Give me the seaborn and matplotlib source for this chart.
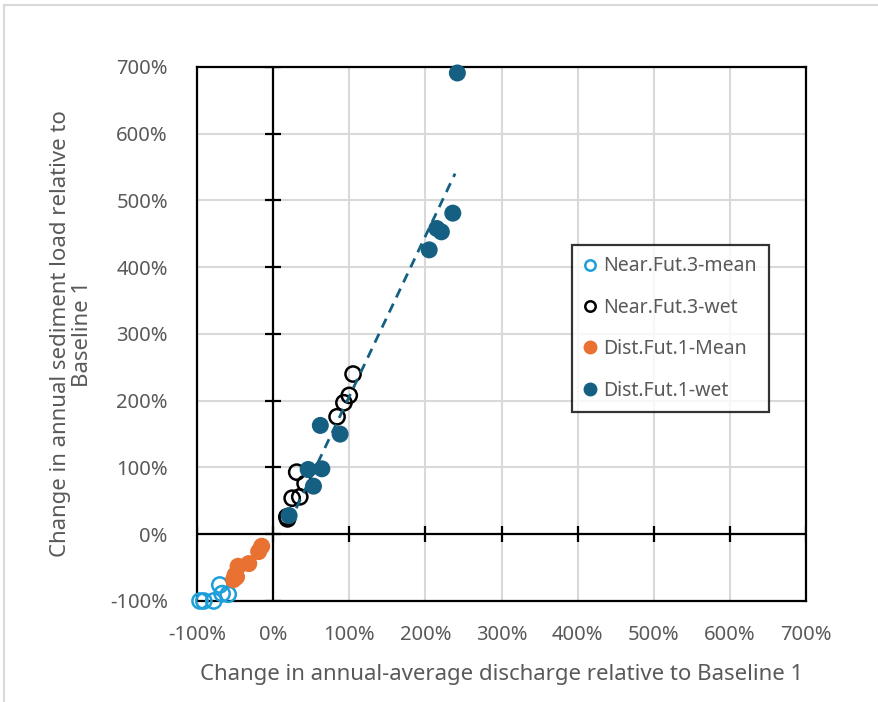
import numpy as np
import pandas as pd
import matplotlib.pyplot as plt
import matplotlib.patches as mpatches
import seaborn as sns

# values in percent
near_mean_x = [-96, -91, -78, -67, -59, -70]
near_mean_y = [-100, -100, -100, -89, -90, -76]

near_wet_x = [105, 100, 93, 84, 31, 42, 35, 25, 18, 19]
near_wet_y = [240, 208, 197, 176, 93, 76, 56, 54, 26, 23]

dist_mean_x = [-15, -19, -32, -46, -50, -52, -48]
dist_mean_y = [-18, -26, -44, -48, -61, -68, -64]

dist_wet_x = [62, 88, 46, 64, 53, 21, 242, 236, 221, 215, 205]
dist_wet_y = [163, 150, 97, 98, 72, 28, 691, 481, 453, 458, 426]

ticks = [-100, 0, 100, 200, 300, 400, 500, 600, 700]
tick_labels = [f"{t}%" for t in ticks]

series = ["Near.Fut.3-mean", "Near.Fut.3-wet", "Dist.Fut.1-Mean", "Dist.Fut.1-wet"]
colors = {"Near.Fut.3-mean": "#1E9FDA", "Near.Fut.3-wet": "#000000",
          "Dist.Fut.1-Mean": "#E97132", "Dist.Fut.1-wet": "#156082"}
hollow = {"Near.Fut.3-mean": True, "Near.Fut.3-wet": True,
          "Dist.Fut.1-Mean": False, "Dist.Fut.1-wet": False}

df = pd.concat([
    pd.DataFrame({"x": near_mean_x, "y": near_mean_y, "series": series[0]}),
    pd.DataFrame({"x": near_wet_x, "y": near_wet_y, "series": series[1]}),
    pd.DataFrame({"x": dist_mean_x, "y": dist_mean_y, "series": series[2]}),
    pd.DataFrame({"x": dist_wet_x, "y": dist_wet_y, "series": series[3]}),
], ignore_index=True)

sns.set_style("white")
plt.rcParams["font.family"] = ["Noto Sans", "DejaVu Sans"]
grey_text = "#595959"

fig = plt.figure(figsize=(8.79, 7.02), dpi=100)
ax = fig.add_axes([0.2241, 0.1439, 0.6929, 0.7607])

# grid
for t in ticks:
    ax.axvline(t, color="#d9d9d9", lw=1.5, zorder=0)
    ax.axhline(t, color="#d9d9d9", lw=1.5, zorder=0)
ax.axvline(0, color="black", lw=1.6, zorder=1)
ax.axhline(0, color="black", lw=1.6, zorder=1)
# cross tick marks on the zero lines
ax.plot([0] * len(ticks), ticks, ls="none", marker="_", ms=11, mew=1.6, color="black", zorder=1)
ax.plot(ticks, [0] * len(ticks), ls="none", marker="|", ms=11, mew=1.6, color="black", zorder=1)

handles = []
for name in series:
    sub = df[df["series"] == name]
    c = colors[name]
    if hollow[name]:
        sns.scatterplot(data=sub, x="x", y="y", ax=ax, s=120, facecolor="none",
                        edgecolor=c, linewidth=1.8, zorder=6, clip_on=False)
        h = plt.Line2D([], [], ls="none", marker="o", ms=7.5, mfc="white", mec=c, mew=1.8)
    else:
        sns.scatterplot(data=sub, x="x", y="y", ax=ax, s=150, color=c,
                        edgecolor="none", linewidth=0, zorder=6, clip_on=False)
        h = plt.Line2D([], [], ls="none", marker="o", ms=9, mfc=c, mec=c)
    handles.append(h)

# linear trendline of the Dist.Fut.1-wet series
fit = np.polyfit(dist_wet_x, dist_wet_y, 1)
xs = np.array([min(dist_wet_x), 239])
ax.plot(xs, np.polyval(fit, xs), ls=(0, (3.5, 2.5)), lw=2, color="#156082", zorder=7)

ax.set_xlim(-100, 700)
ax.set_ylim(-100, 700)
ax.set_xticks(ticks)
ax.set_xticklabels(tick_labels)
ax.set_yticks(ticks)
ax.set_yticklabels(tick_labels)
ax.tick_params(length=0, labelsize=14.5, labelcolor=grey_text)
ax.tick_params(axis="x", pad=17)
ax.tick_params(axis="y", pad=21)
for s in ax.spines.values():
    s.set_color("black")
    s.set_linewidth(1.6)
    s.set_zorder(5)

ax.set_xlabel("Change in annual-average discharge relative to Baseline 1",
              fontsize=16, color=grey_text, labelpad=14)
ax.set_ylabel("Change in annual sediment load relative to\nBaseline 1",
              fontsize=16, color=grey_text, labelpad=12, linespacing=1.05)

leg = ax.legend(handles, series, loc="upper left", bbox_to_anchor=(0.616, 0.667),
                fontsize=14, frameon=True, fancybox=False, labelspacing=1.1,
                handlelength=0.6, handletextpad=0.4, borderpad=0.6, borderaxespad=0)
leg.get_frame().set_edgecolor("black")
leg.get_frame().set_linewidth(1.6)
leg.set_zorder(8)
for t in leg.get_texts():
    t.set_color(grey_text)

# light chart-area border
fig.patches.append(mpatches.Rectangle((0.005, -0.01), 1.1, 1.003, transform=fig.transFigure,
                                      fill=False, edgecolor="#d9d9d9", lw=1.5))

fig.savefig("out.png", dpi=100)
